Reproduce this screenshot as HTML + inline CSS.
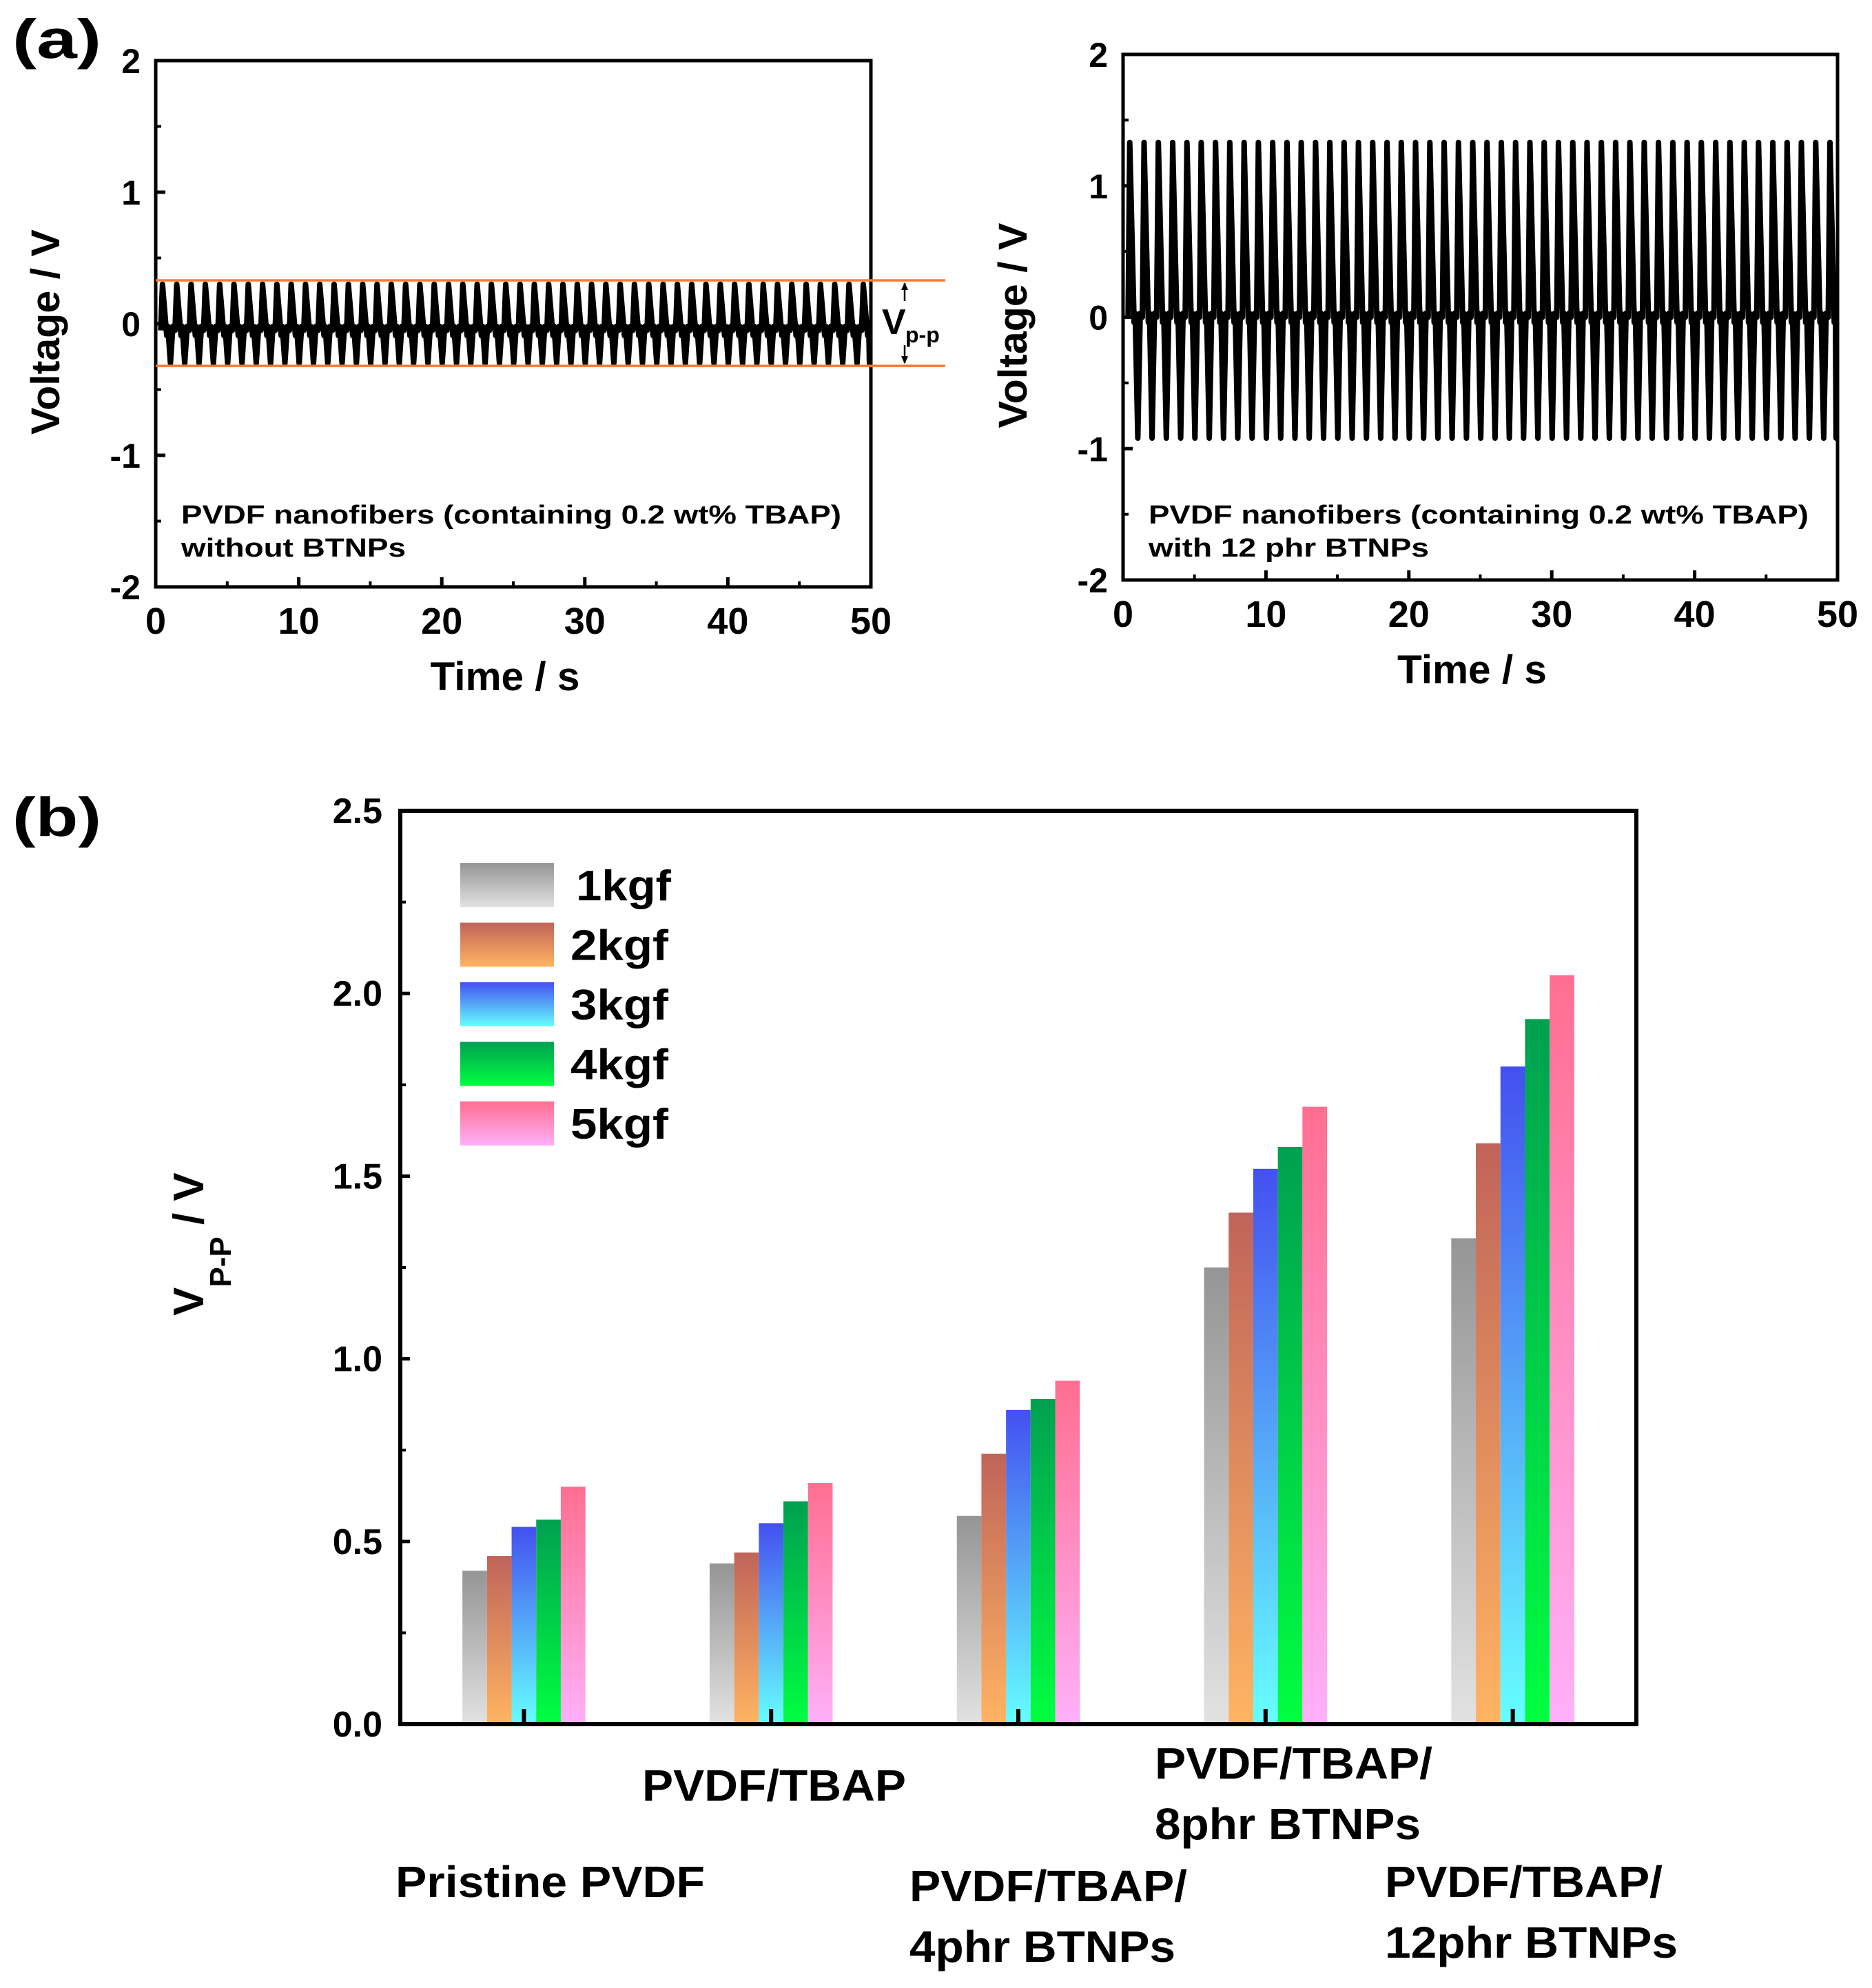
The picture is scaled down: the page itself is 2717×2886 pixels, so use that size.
<!DOCTYPE html>
<html><head><meta charset="utf-8"><style>
html,body{margin:0;padding:0;background:#fff}
svg{display:block}
text{font-family:"Liberation Sans",Arial,sans-serif;font-weight:bold;fill:#000}
</style></head><body>
<svg id="svg" width="2717" height="2886" viewBox="0 0 2717 2886" xmlns="http://www.w3.org/2000/svg">
<defs>
<linearGradient id="g1" x1="0" y1="0" x2="0" y2="1"><stop offset="0" stop-color="#959595"/><stop offset="1" stop-color="#e2e2e2"/></linearGradient>
<linearGradient id="g2" x1="0" y1="0" x2="0" y2="1"><stop offset="0" stop-color="#c0645a"/><stop offset="1" stop-color="#ffb462"/></linearGradient>
<linearGradient id="g3" x1="0" y1="0" x2="0" y2="1"><stop offset="0" stop-color="#4450f0"/><stop offset="1" stop-color="#66ffff"/></linearGradient>
<linearGradient id="g4" x1="0" y1="0" x2="0" y2="1"><stop offset="0" stop-color="#00a050"/><stop offset="1" stop-color="#00ff40"/></linearGradient>
<linearGradient id="g5" x1="0" y1="0" x2="0" y2="1"><stop offset="0" stop-color="#ff6e90"/><stop offset="1" stop-color="#ffb0fa"/></linearGradient>
</defs>
<text x="18" y="84" font-size="80" textLength="129" lengthAdjust="spacingAndGlyphs">(a)</text>
<text x="18" y="1214" font-size="80" textLength="129" lengthAdjust="spacingAndGlyphs">(b)</text>
<g id="pa1"></g><g id="pa2"></g><g id="pb"></g>
</svg>
<script>
const NS="http://www.w3.org/2000/svg";
function el(parent,tag,attrs,txt){const e=document.createElementNS(NS,tag);for(const k in attrs)e.setAttribute(k,attrs[k]);if(txt!==undefined)e.textContent=txt;parent.appendChild(e);return e;}

// ---------- Panel (a) data ----------
const timeTicks=[0,10,20,30,40,50];
const voltTicks=[-2,-1,0,1,2];
const cyclesLeft=50, cyclesRight=50;
const leftPeak=[0.30], leftTrough=[-0.30], leftBase=[-0.05];
const rightPeak=[1.33], rightTrough=[-0.92], rightBase=[0.0];
const vppLines=[0.33,-0.32];

function wavePanel(g,box,peak,trough,base,cycles,name){
  const X=t=>box.x0+(t-0)/(50-0)*(box.x1-box.x0);
  const Y=v=>box.y1-(v+2)/4*(box.y1-box.y0);
  let d="";
  for(let i=0;i<cycles;i++){
    const t=i*(50/cycles)+0.35;
    const pts=[[t,base],[t+0.12,peak],[t+0.42,base-0.04],[t+0.5,base+0.03],[t+0.68,trough],[t+0.85,base+0.03],[t+1.0,base]];
    pts.forEach((p,j)=>{d+=(i===0&&j===0?"M":"L")+X(Math.min(p[0],49.9)).toFixed(1)+","+Y(p[1]).toFixed(1)+" ";});
  }
  const w=el(g,"path",{d:d,fill:"none",stroke:"#000","stroke-width":8,"stroke-linejoin":"round"});
  
  
  const fr=el(g,"rect",{x:box.x0,y:box.y0,width:box.x1-box.x0,height:box.y1-box.y0,fill:"none",stroke:"#000","stroke-width":5});
  
  
  timeTicks.forEach(t=>{
    el(g,"line",{x1:X(t),x2:X(t),y1:box.y1,y2:box.y1-14,stroke:"#000","stroke-width":5});
    if(t<50) el(g,"line",{x1:X(t+5),x2:X(t+5),y1:box.y1,y2:box.y1-8,stroke:"#000","stroke-width":4});
    const l=el(g,"text",{x:X(t),y:box.y1+68,"font-size":54,"text-anchor":"middle"},String(t));
    
    
  });
  voltTicks.forEach(v=>{
    el(g,"line",{x1:box.x0,x2:box.x0+14,y1:Y(v),y2:Y(v),stroke:"#000","stroke-width":5});
    if(v<2) el(g,"line",{x1:box.x0,x2:box.x0+8,y1:Y(v+0.5),y2:Y(v+0.5),stroke:"#000","stroke-width":4});
    const l=el(g,"text",{x:box.x0-22,y:Y(v)+18,"font-size":50,"text-anchor":"end"},String(v));
    
    
  });
  const xt=el(g,"text",{x:(box.x0+box.x1)/2-12,y:box.y1+150,"font-size":58,"text-anchor":"middle",textLength:217,lengthAdjust:"spacingAndGlyphs"},"Time / s");
  
  
  const yt=el(g,"text",{x:0,y:0,"font-size":58,"text-anchor":"middle",textLength:298,lengthAdjust:"spacingAndGlyphs",transform:`translate(${box.x0-140},${(box.y0+box.y1)/2+12}) rotate(-90)`},"Voltage / V");
  
  
  return {X,Y};
}
const A1={x0:226,x1:1264,y0:88,y1:852};
const s1=wavePanel(document.getElementById("pa1"),A1,leftPeak[0],leftTrough[0],leftBase[0],cyclesLeft,"panel-a-left");
const A2={x0:1630,x1:2667,y0:79,y1:842};
const s2=wavePanel(document.getElementById("pa2"),A2,rightPeak[0],rightTrough[0],rightBase[0],cyclesRight,"panel-a-right");
{
  const g=document.getElementById("pa1");
  vppLines.forEach(v=>{
    const l=el(g,"line",{x1:A1.x0,x2:1372,y1:s1.Y(v),y2:s1.Y(v),stroke:"#ff7a30","stroke-width":3.5});
    
    
  });
  const ax=1313;
  el(g,"line",{x1:ax,x2:ax,y1:s1.Y(vppLines[0])+4,y2:s1.Y(vppLines[0])+30,stroke:"#000","stroke-width":2.5});
  el(g,"path",{d:`M${ax-5},${s1.Y(vppLines[0])+14} L${ax},${s1.Y(vppLines[0])+3} L${ax+5},${s1.Y(vppLines[0])+14}Z`,fill:"#000"});
  el(g,"line",{x1:ax,x2:ax,y1:s1.Y(vppLines[1])-4,y2:s1.Y(vppLines[1])-30,stroke:"#000","stroke-width":2.5});
  el(g,"path",{d:`M${ax-5},${s1.Y(vppLines[1])-14} L${ax},${s1.Y(vppLines[1])-3} L${ax+5},${s1.Y(vppLines[1])-14}Z`,fill:"#000"});
  const t=el(g,"text",{x:1280,y:485,"font-size":52},"V");
  
  
  el(g,"text",{x:1314,y:497,"font-size":32},"p-p");
  const n1=el(g,"text",{x:263,y:760,"font-size":38,textLength:958,lengthAdjust:"spacingAndGlyphs"},"PVDF nanofibers (containing 0.2 wt% TBAP)");
  
  
  el(g,"text",{x:263,y:808,"font-size":38,textLength:326,lengthAdjust:"spacingAndGlyphs"},"without BTNPs");
  const g2=document.getElementById("pa2");
  const n2=el(g2,"text",{x:1667,y:760,"font-size":38,textLength:958,lengthAdjust:"spacingAndGlyphs"},"PVDF nanofibers (containing 0.2 wt% TBAP)");
  
  
  el(g2,"text",{x:1667,y:808,"font-size":38,textLength:407,lengthAdjust:"spacingAndGlyphs"},"with 12 phr BTNPs");
}

// ---------- Panel (b) data ----------
const categories=["Pristine PVDF","PVDF/TBAP","PVDF/TBAP/4phr BTNPs","PVDF/TBAP/8phr BTNPs","PVDF/TBAP/12phr BTNPs"];
const seriesNames=["1kgf","2kgf","3kgf","4kgf","5kgf"];
const s1kgf=[0.42,0.44,0.57,1.25,1.33];
const s2kgf=[0.46,0.47,0.74,1.40,1.59];
const s3kgf=[0.54,0.55,0.86,1.52,1.80];
const s4kgf=[0.56,0.61,0.89,1.58,1.93];
const s5kgf=[0.65,0.66,0.94,1.69,2.05];
const yTicksB=[0,0.5,1.0,1.5,2.0,2.5];
const yTickLabelsB=["0.0","0.5","1.0","1.5","2.0","2.5"];
{
  const g=document.getElementById("pb");
  const B={x0:581,x1:2375,y0:1177,y1:2503};
  const Y=v=>B.y1-v/2.5*(B.y1-B.y0);
  const band=(B.x1-B.x0)/categories.length;
  const Xc=i=>B.x0+band*(i+0.5);
  const bw=35.7;
  const series=[s1kgf,s2kgf,s3kgf,s4kgf,s5kgf];
  series.forEach((s,si)=>{
    s.forEach((v,ci)=>{
      const r=el(g,"rect",{x:Xc(ci)+(si-2.5)*bw,y:Y(v),width:bw,height:Y(0)-Y(v),fill:`url(#g${si+1})`});
      
      
    });
  });
  const fr=el(g,"rect",{x:B.x0,y:B.y0,width:B.x1-B.x0,height:B.y1-B.y0,fill:"none",stroke:"#000","stroke-width":6});
  
  
  categories.forEach((c,i)=>{el(g,"line",{x1:Xc(i),x2:Xc(i),y1:B.y1,y2:B.y1-22,stroke:"#000","stroke-width":6});});
  yTicksB.forEach((v,i)=>{
    el(g,"line",{x1:B.x0,x2:B.x0+14,y1:Y(v),y2:Y(v),stroke:"#000","stroke-width":5});
    if(v<2.5) el(g,"line",{x1:B.x0,x2:B.x0+8,y1:Y(v+0.25),y2:Y(v+0.25),stroke:"#000","stroke-width":4});
    const l=el(g,"text",{x:B.x0-26,y:Y(v)+18,"font-size":52,"text-anchor":"end"},yTickLabelsB[i]);
    
    
  });
  const yt=el(g,"text",{x:0,y:0,"font-size":62,transform:"translate(295,1910) rotate(-90)"});
  
  
  el(yt,"tspan",{},"V");
  el(yt,"tspan",{dy:40,"font-size":44},"P-P");
  el(yt,"tspan",{dy:-40}," / V");
  seriesNames.forEach((n,i)=>{
    const ly=1253+i*86.5;
    const r=el(g,"rect",{x:668,y:ly,width:136,height:64,fill:`url(#g${i+1})`});
    
    
    const t=el(g,"text",{x:i===0?836:828,y:ly+54,"font-size":62,textLength:i===0?138:142,lengthAdjust:"spacingAndGlyphs"},n);
    
    
  });
  const labs=[[574,2754,"Pristine PVDF",449],[932,2614,"PVDF/TBAP",383],[1320,2760,"PVDF/TBAP/",403],[1320,2848,"4phr BTNPs",386],[1676,2582,"PVDF/TBAP/",403],[1676,2670,"8phr BTNPs",386],[2010,2754,"PVDF/TBAP/",403],[2010,2842,"12phr BTNPs",425]];
  labs.forEach(l=>{
    const t=el(g,"text",{x:l[0],y:l[1],"font-size":64,textLength:l[3],lengthAdjust:"spacingAndGlyphs"},l[2]);
    
    
  });
}
</script>
</body></html>
